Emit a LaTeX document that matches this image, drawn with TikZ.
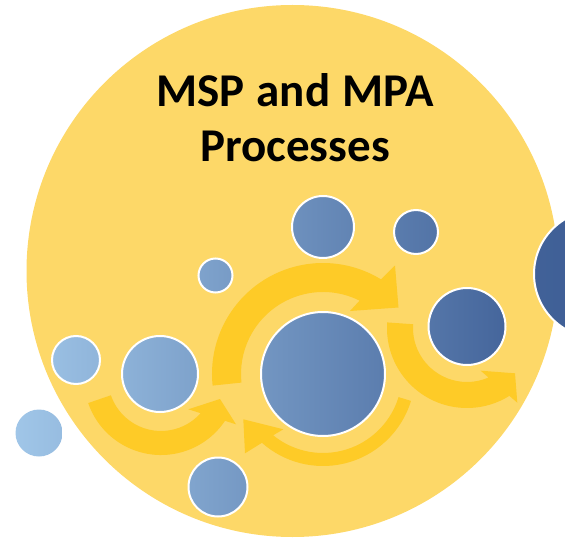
\documentclass[tikz,border=0pt]{standalone}
\usepackage{fontspec}
\setmainfont{Carlito}
\definecolor{bgyellow}{HTML}{FDD868}
\definecolor{arrowc}{HTML}{FECB27}
\definecolor{lt}{HTML}{A0C6E8}
\definecolor{dk}{HTML}{3B5B93}
\tikzset{
  bub/.style={circle, inner sep=0pt, outer sep=0pt, draw=white, line width=2pt},
  titletext/.style={font=\bfseries\fontsize{47}{55}\selectfont, text=black, anchor=base, inner sep=0pt},
  arrowfill/.style={fill=arrowc}
}
\begin{document}
\begin{tikzpicture}[x=1pt,y=-1pt]
\useasboundingbox (0,0) rectangle (565,540);
\clip (0,0) rectangle (565,540);
% background disc
\fill[bgyellow] (292.5,271) circle[radius=266];
% arrows
\fill[arrowfill] ([shift={(161:77)}]161,378) arc[start angle=161, end angle=33.8, radius=77]
  -- (236,424.3) -- (220,399) -- (188.3,409.3) -- ([shift={(41.6:53)}]161,378)
  arc[start angle=41.6, end angle=161, radius=53] -- cycle;
\fill[arrowfill] ([shift={(174:111)}]323,374) arc[start angle=174, end angle=301.5, radius=111]
  -- (395,265.5) -- (398.5,307.5) -- (350,311) -- ([shift={(296.5:82)}]323,374)
  arc[start angle=296.5, end angle=174, radius=82] -- cycle;
\fill[arrowfill] ([shift={(17:92)}]323,374) arc[start angle=17, end angle=131.6, radius=92]
  -- (245,453.3) -- (243.3,419.3) -- (283.3,429.3) -- ([shift={(129.1:79)}]323,374)
  arc[start angle=129.1, end angle=17, radius=79] -- cycle;
\fill[arrowfill] ([shift={(184:80)}]467,328) arc[start angle=184, end angle=58, radius=80]
  -- (517.3,402.7) -- (515,373.3) -- (480.7,370.7) -- ([shift={(66.5:54)}]467,328)
  arc[start angle=66.5, end angle=184, radius=54] -- cycle;
% bubbles
\node[bub, draw=none, minimum size=47pt, left color=dk!0!lt, right color=dk!9!lt] (c1) at (39,433) {};
\node[bub, minimum size=48pt, left color=dk!7!lt, right color=dk!16!lt] (c2) at (76,360) {};
\node[bub, minimum size=76pt, left color=dk!19!lt, right color=dk!34!lt] (c3) at (160,374) {};
\node[bub, minimum size=34pt, left color=dk!33!lt, right color=dk!40!lt] (c4) at (215.5,275.5) {};
\node[bub, minimum size=59pt, left color=dk!31!lt, right color=dk!43!lt] (c5) at (218,487) {};
\node[bub, minimum size=62pt, left color=dk!50!lt, right color=dk!62!lt] (c6) at (323,227) {};
\node[bub, minimum size=44pt, left color=dk!69!lt, right color=dk!77!lt] (c7) at (416,232) {};
\node[bub, minimum size=124pt, left color=dk!45!lt, right color=dk!68!lt] (c8) at (323,374) {};
\node[bub, minimum size=77pt, left color=dk!75!lt, right color=dk!90!lt] (c9) at (467,326.5) {};
\node[bub, minimum size=128pt, left color=dk!94!lt, right color=dk!100!lt] (c10) at (598,274) {};
% title
\node[titletext] (t1) at (295,106.7) {MSP\hskip 12pt and\hskip 12pt MPA};
\node[titletext] (t2) at (295,161.7) {Processes};
\end{tikzpicture}
\end{document}
